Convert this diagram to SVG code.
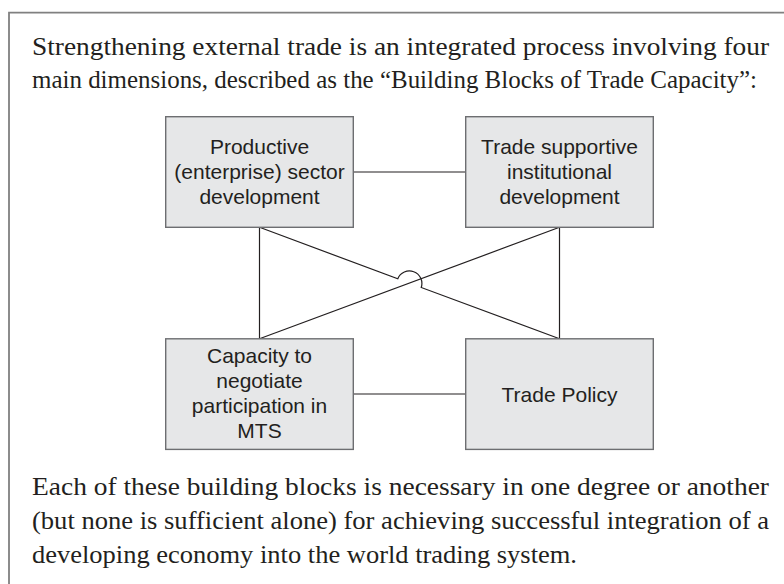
<svg xmlns="http://www.w3.org/2000/svg" width="784" height="584" viewBox="0 0 784 584">
<style>
.frame{fill:none;stroke:#808080;stroke-width:1.8}
.para{font-family:"Liberation Serif","Times New Roman",serif;font-size:25px;fill:#231f20}
.box{fill:#e6e7e8;stroke:#6d6e71;stroke-width:1.4}
.lbl{font-family:"Liberation Sans",Arial,sans-serif;font-size:21px;fill:#231f20;text-anchor:middle}
.conn{fill:none;stroke:#231f20;stroke-width:1.2}
</style>
<rect width="784" height="584" fill="#ffffff"/>
<path class="frame" d="M9 584 V12.7 H784"/>
<g id="intro">
<text class="para" x="32" y="54.5" textLength="737" lengthAdjust="spacingAndGlyphs">Strengthening external trade is an integrated process involving four</text>
<text class="para" x="32" y="87.5" textLength="725" lengthAdjust="spacingAndGlyphs">main dimensions, described as the “Building Blocks of Trade Capacity”:</text>
</g>
<g id="connectors">
<line class="conn" x1="353.3" y1="172" x2="465.7" y2="172"/>
<line class="conn" x1="353.3" y1="394" x2="465.7" y2="394"/>
<line class="conn" x1="259.5" y1="227.3" x2="259.5" y2="338.8"/>
<line class="conn" x1="559.5" y1="227.3" x2="559.5" y2="338.8"/>
<line class="conn" x1="559.5" y1="227.3" x2="259.5" y2="338.8"/>
<path class="conn" d="M259.5 227.3 L397.79 278.79 A12.5 12.5 0 0 1 421.21 287.51 L559.5 338.8"/>
</g>
<g id="node-productive">
<rect class="box" x="165.7" y="116.7" width="187.6" height="110.6"/>
<text class="lbl" x="259.5" y="153.5">Productive</text>
<text class="lbl" x="259.5" y="178.5">(enterprise) sector</text>
<text class="lbl" x="259.5" y="203.5">development</text>
</g>
<g id="node-institutional">
<rect class="box" x="465.7" y="116.7" width="187.6" height="110.6"/>
<text class="lbl" x="559.5" y="153.5">Trade supportive</text>
<text class="lbl" x="559.5" y="178.5">institutional</text>
<text class="lbl" x="559.5" y="203.5">development</text>
</g>
<g id="node-negotiate">
<rect class="box" x="165.7" y="338.8" width="187.6" height="110.6"/>
<text class="lbl" x="259.5" y="363.2">Capacity to</text>
<text class="lbl" x="259.5" y="388">negotiate</text>
<text class="lbl" x="259.5" y="412.8">participation in</text>
<text class="lbl" x="259.5" y="437.6">MTS</text>
</g>
<g id="node-policy">
<rect class="box" x="465.7" y="338.8" width="187.6" height="110.6"/>
<text class="lbl" x="559.5" y="401.5">Trade Policy</text>
</g>
<g id="outro">
<text class="para" x="32" y="495" textLength="737" lengthAdjust="spacingAndGlyphs">Each of these building blocks is necessary in one degree or another</text>
<text class="para" x="32" y="529" textLength="737" lengthAdjust="spacingAndGlyphs">(but none is sufficient alone) for achieving successful integration of a</text>
<text class="para" x="32" y="562.5" textLength="545" lengthAdjust="spacingAndGlyphs">developing economy into the world trading system.</text>
</g>
</svg>
